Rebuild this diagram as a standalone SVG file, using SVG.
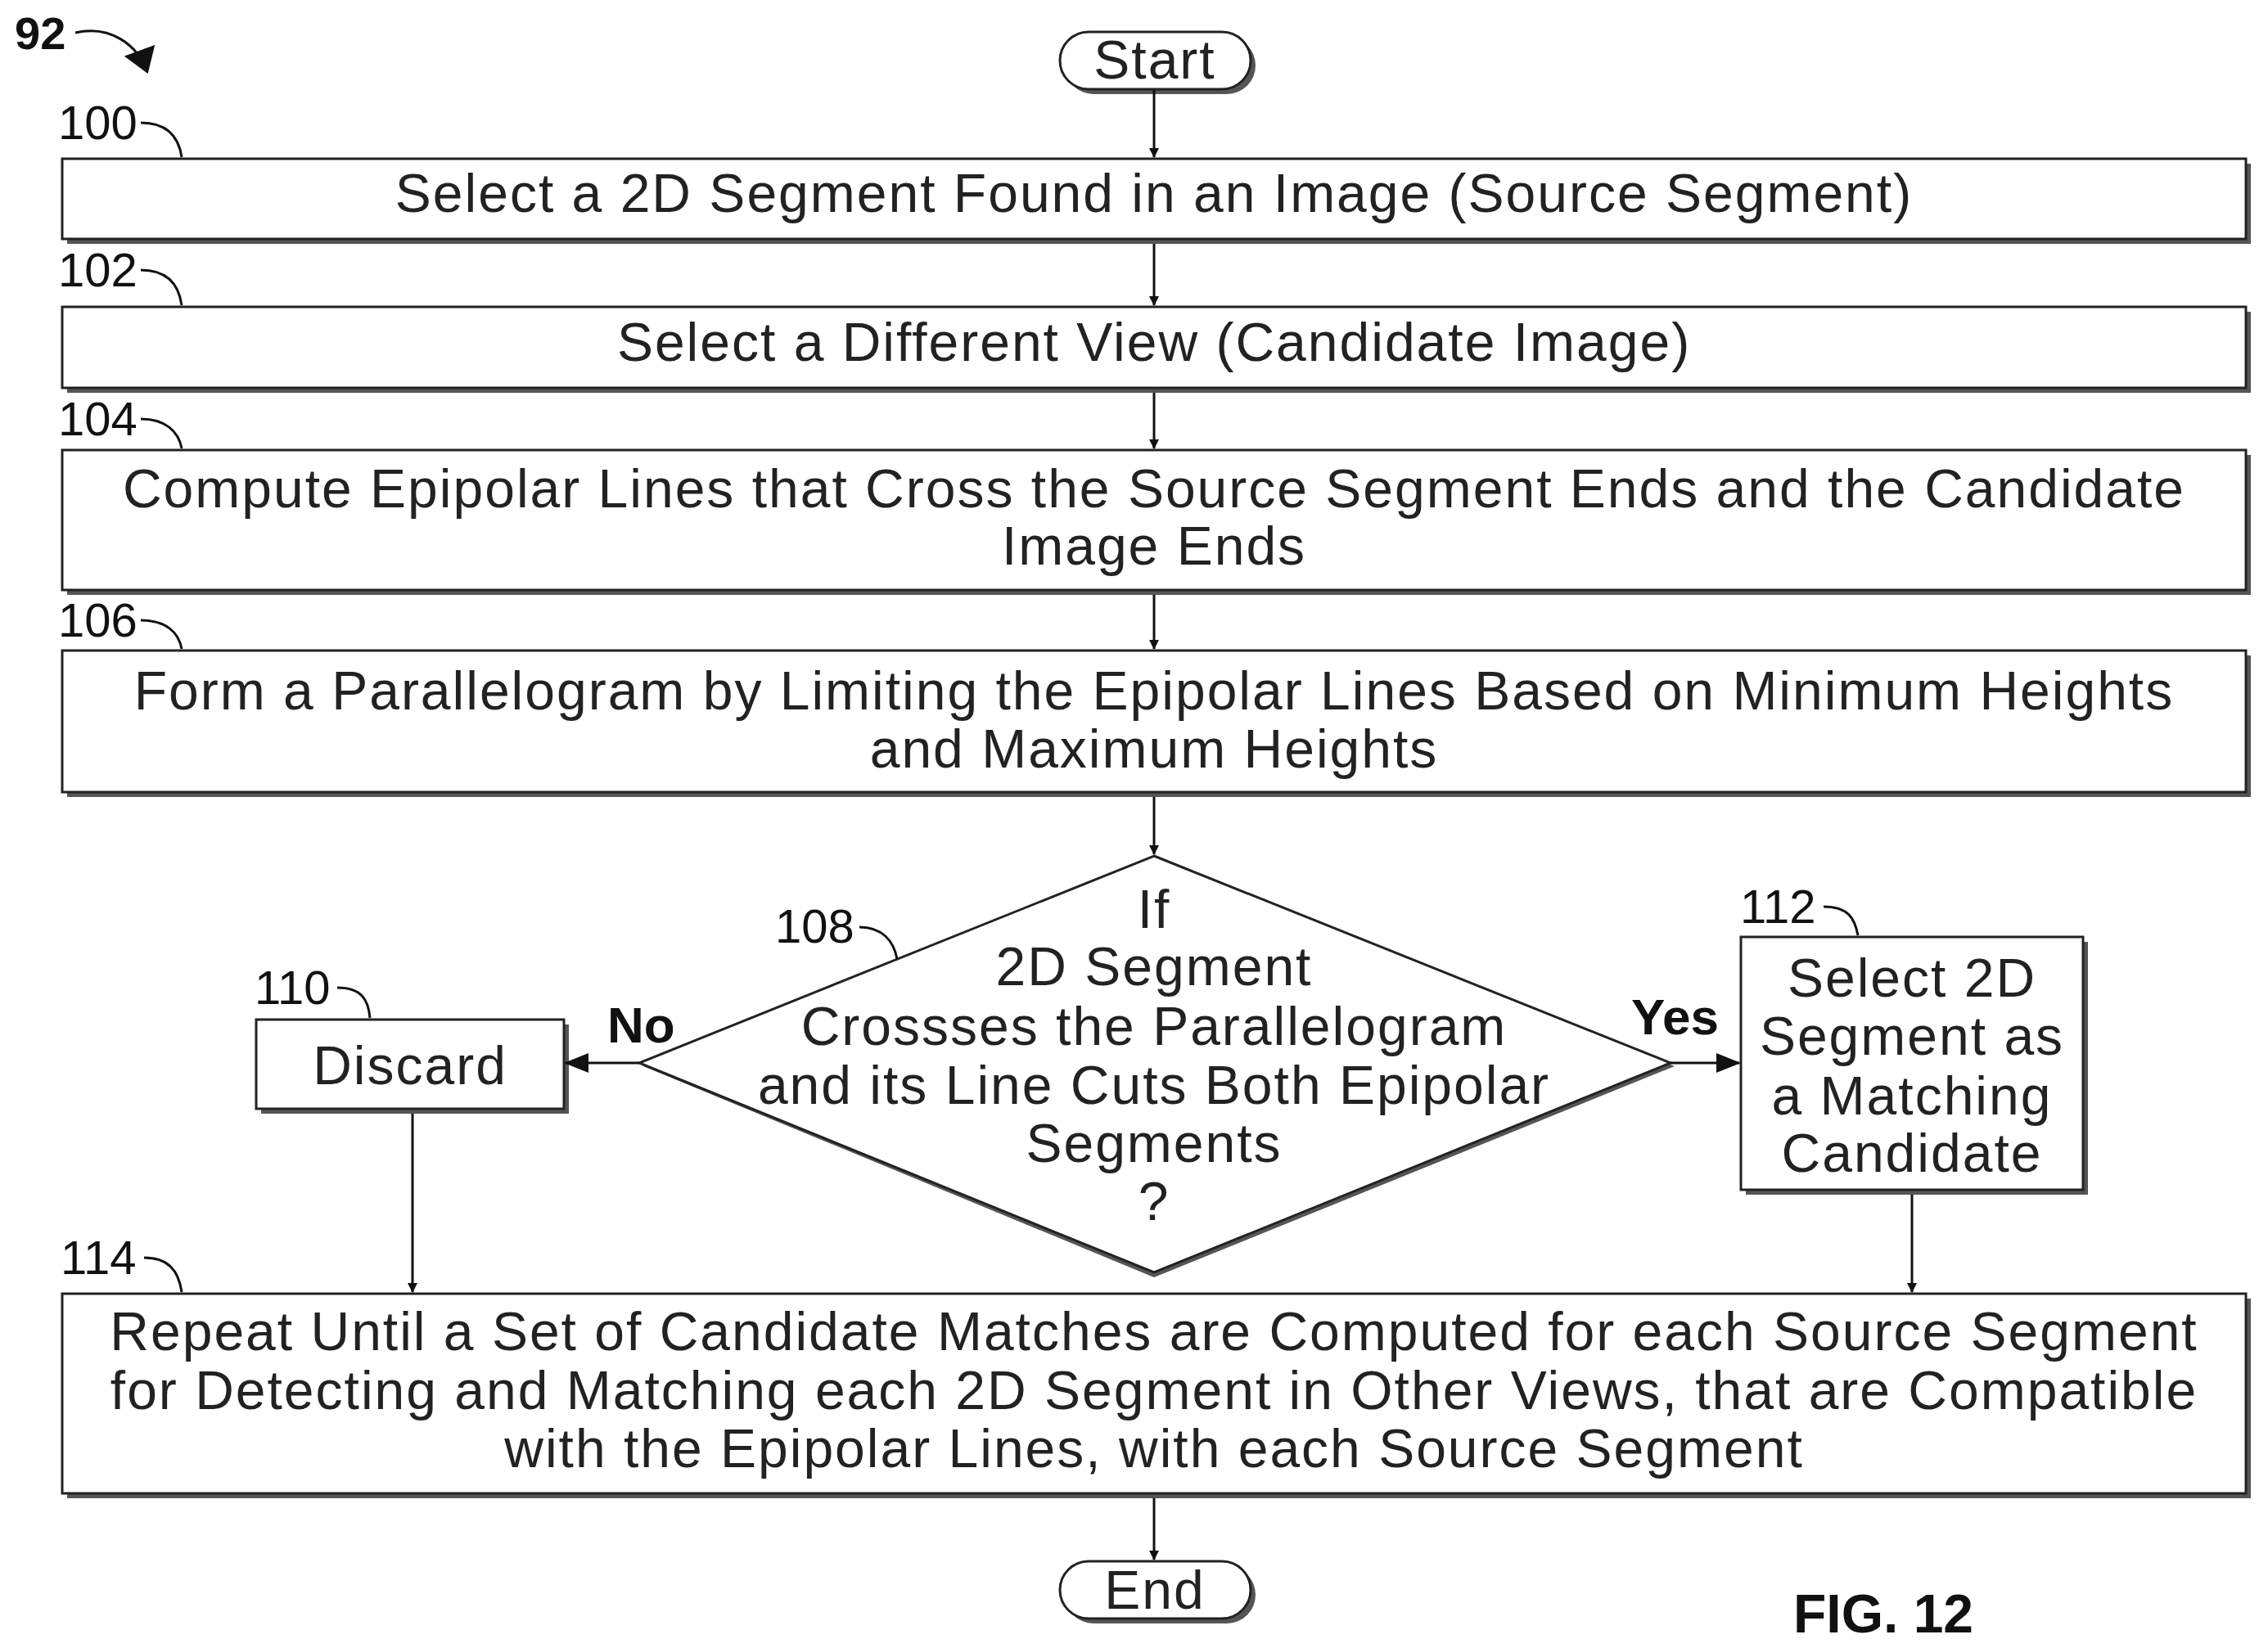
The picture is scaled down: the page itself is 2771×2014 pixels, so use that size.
<svg xmlns="http://www.w3.org/2000/svg" width="2771" height="2014" viewBox="0 0 2771 2014">
<style>
.b{fill:#fff;stroke:#222;stroke-width:3}
.s{fill:#555}
.t{font-family:"Liberation Sans",Arial,sans-serif;font-size:66px;letter-spacing:2px;fill:#222;text-anchor:middle}
.n{font-family:"Liberation Sans",Arial,sans-serif;font-size:58px;fill:#111}
.c{fill:none;stroke:#111;stroke-width:3}
.l{fill:none;stroke:#111;stroke-width:3}
</style>
<defs>
<marker id="a" markerWidth="12" markerHeight="12" refX="11" refY="6" orient="auto" markerUnits="userSpaceOnUse" viewBox="0 0 12 12"><path d="M0,0L12,6L0,12z" fill="#111"/></marker>
<marker id="a2" markerWidth="30" markerHeight="24" refX="28" refY="12" orient="auto" markerUnits="userSpaceOnUse"><path d="M0,0L30,12L0,24z" fill="#111"/></marker>
<marker id="a3" markerWidth="30" markerHeight="40" refX="28" refY="20" orient="auto" markerUnits="userSpaceOnUse"><path d="M0,0L30,20L0,40z" fill="#111"/></marker>
</defs>
<g id="label92"><text x="18" y="60" class="n" style="font-weight:bold;font-size:56px">92</text><path d="M92,40 C135,30 168,55 180,88" class="c" stroke-width="8" marker-end="url(#a3)"/></g>
<g id="start"><rect x="1301" y="45" width="233" height="70" rx="35" class="s"/><rect x="1295" y="39" width="233" height="70" rx="35" class="b"/><text x="1411" y="96" class="t">Start</text></g>
<g id="n100"><rect x="82" y="200" width="2668" height="98" class="s"/><rect x="76" y="194" width="2668" height="98" class="b"/><text x="1410" y="259" class="t">Select a 2D Segment Found in an Image (Source Segment)</text>
<text x="71" y="170" class="n">100</text><path d="M172,150 C202,150 218,165 222,192" class="l"/></g>
<g id="n102"><rect x="82" y="381" width="2668" height="99" class="s"/><rect x="76" y="375" width="2668" height="99" class="b"/><text x="1410" y="441" class="t">Select a Different View (Candidate Image)</text>
<text x="71" y="350" class="n">102</text><path d="M172,330 C202,330 218,345 222,373" class="l"/></g>
<g id="n104"><rect x="82" y="556" width="2668" height="171" class="s"/><rect x="76" y="550" width="2668" height="171" class="b"/><text x="1410" y="620" class="t">Compute Epipolar Lines that Cross the Source Segment Ends and the Candidate</text><text x="1410" y="690" class="t">Image Ends</text>
<text x="71" y="532" class="n">104</text><path d="M172,512 C202,512 218,527 222,548" class="l"/></g>
<g id="n106"><rect x="82" y="801" width="2668" height="173" class="s"/><rect x="76" y="795" width="2668" height="173" class="b"/><text x="1410" y="867" class="t">Form a Parallelogram by Limiting the Epipolar Lines Based on Minimum Heights</text><text x="1410" y="938" class="t">and Maximum Heights</text>
<text x="71" y="778" class="n">106</text><path d="M172,758 C202,758 218,772 222,793" class="l"/></g>
<g id="n108"><path d="M1410,1050 L2046,1303 L1410,1561 L786,1303z" class="s"/><path d="M1410,1046 L2041,1299 L1410,1555 L781,1299z" class="b"/>
<text class="t"><tspan x="1410" y="1134">If</tspan><tspan x="1410" y="1204">2D Segment</tspan><tspan x="1410" y="1277">Crossses the Parallelogram</tspan><tspan x="1410" y="1349">and its Line Cuts Both Epipolar</tspan><tspan x="1410" y="1420">Segments</tspan><tspan x="1410" y="1491">?</tspan></text>
<text x="947" y="1152" class="n">108</text><path d="M1050,1133 C1078,1133 1092,1150 1096,1172" class="l"/></g>
<g id="n110"><rect x="319" y="1252" width="376" height="109" class="s"/><rect x="313" y="1246" width="376" height="109" class="b"/><text x="501" y="1325" class="t">Discard</text>
<text x="311" y="1227" class="n">110</text><path d="M412,1207 C442,1207 450,1222 452,1244" class="l"/></g>
<g id="n112"><rect x="2133" y="1151" width="418" height="309" class="s"/><rect x="2127" y="1145" width="418" height="309" class="b"/>
<text class="t"><tspan x="2336" y="1218">Select 2D</tspan><tspan x="2336" y="1289">Segment as</tspan><tspan x="2336" y="1362">a Matching</tspan><tspan x="2336" y="1432">Candidate</tspan></text>
<text x="2126" y="1128" class="n">112</text><path d="M2228,1108 C2258,1108 2266,1122 2270,1143" class="l"/></g>
<g id="n114"><rect x="82" y="1587" width="2668" height="244" class="s"/><rect x="76" y="1581" width="2668" height="244" class="b"/>
<text class="t"><tspan x="1410" y="1650">Repeat Until a Set of Candidate Matches are Computed for each Source Segment</tspan><tspan x="1410" y="1722">for Detecting and Matching each 2D Segment in Other Views, that are Compatible</tspan><tspan x="1410" y="1793">with the Epipolar Lines, with each Source Segment</tspan></text>
<text x="74" y="1557" class="n">114</text><path d="M176,1537 C205,1537 218,1552 222,1579" class="l"/></g>
<g id="end"><rect x="1301" y="1914" width="233" height="70" rx="35" class="s"/><rect x="1295" y="1908" width="233" height="70" rx="35" class="b"/><text x="1411" y="1966" class="t">End</text></g>
<text x="2191" y="1995" class="n" style="font-weight:bold;font-size:66px">FIG. 12</text>
<g id="connectors">
<line x1="1410" y1="110" x2="1410" y2="192" class="c" marker-end="url(#a)"/>
<line x1="1410" y1="298" x2="1410" y2="373" class="c" marker-end="url(#a)"/>
<line x1="1410" y1="480" x2="1410" y2="548" class="c" marker-end="url(#a)"/>
<line x1="1410" y1="727" x2="1410" y2="793" class="c" marker-end="url(#a)"/>
<line x1="1410" y1="974" x2="1410" y2="1044" class="c" marker-end="url(#a)"/>
<line x1="781" y1="1299" x2="691" y2="1299" class="c" stroke-width="6" marker-end="url(#a2)"/>
<line x1="2041" y1="1299" x2="2125" y2="1299" class="c" stroke-width="6" marker-end="url(#a2)"/>
<line x1="504" y1="1361" x2="504" y2="1579" class="c" marker-end="url(#a)"/>
<line x1="2336" y1="1460" x2="2336" y2="1579" class="c" marker-end="url(#a)"/>
<line x1="1410" y1="1831" x2="1410" y2="1906" class="c" marker-end="url(#a)"/>
<text x="742" y="1274" class="n" style="font-weight:bold;font-size:62px">No</text>
<text x="1993" y="1264" class="n" style="font-weight:bold;font-size:62px">Yes</text>
</g>
</svg>
